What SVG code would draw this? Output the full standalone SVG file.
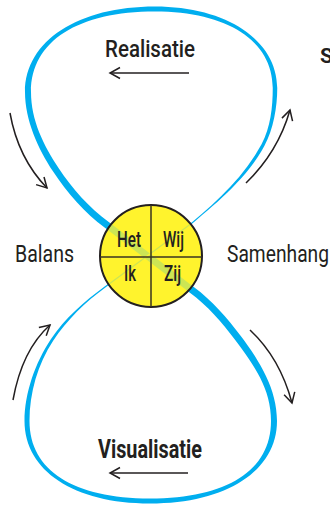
<svg xmlns="http://www.w3.org/2000/svg" width="330" height="508" viewBox="0 0 330 508">
<style>
.lbl{font-family:Roboto,"Liberation Sans",sans-serif;fill:#231f20;}
.arrow{fill:none;stroke:#231f20;stroke-width:1.5;marker-end:url(#ah);}
.cross{stroke:#3a3320;stroke-width:1.5;}
</style>
<defs>
<marker id="ah" markerWidth="14" markerHeight="14" refX="11" refY="6" orient="auto" markerUnits="userSpaceOnUse" viewBox="0 0 14 12">
<path d="M1,0.5 L11,6 L1,11.5" fill="none" stroke="#231f20" stroke-width="1.5"/>
</marker>
</defs>
<rect width="330" height="508" fill="#ffffff"/>
<g id="center-base">
<circle cx="151" cy="256" r="51" fill="#fff22d"/>
</g>
<g id="loop">
<path fill="#00aeef" fill-rule="evenodd" d="M192.32,223.39 C219.32,200.99 247.95,176.58 264.45,145.78 C273.45,129.08 277.25,107 277.25,88 C277.25,40.6 227,6.5 155,6.5 C78.8,6.5 25,40.5 25,92 C25,120 37.9,148.59 53.3,171.79 C67.05,192.54 84.68,213.09 104.93,227.84 L189.93,292.84 C207.73,305.84 222,322.5 235.2,340.1 C254.4,365.7 271,389 271,421 C271,470.6 226.9,498.5 150,498.5 C73.7,498.5 29.5,470.6 29.5,421 C29.5,393 37.76,363.97 53.16,340.77 C66.91,320.02 85.13,302.28 105.38,287.53 Z M191.68,222.62 C218.68,200.22 245.05,175.02 261.55,144.22 C270.55,127.52 272.75,107 272.75,88 C272.75,40.6 227,11.5 155,11.5 C78.8,11.5 31,40.5 31,92 C31,120 43.3,145.01 58.7,168.21 C72.45,188.96 88.82,207.41 109.07,222.16 L194.07,287.16 C211.87,300.16 227.6,318.3 240.8,335.9 C260,361.5 277,389 277,421 C277,470.6 226.9,503.5 150,503.5 C73.7,503.5 24.5,470.6 24.5,421 C24.5,393 35.44,362.43 50.84,339.23 C64.59,318.48 84.37,301.22 104.62,286.47 Z"/>
</g>
<g id="center">
<circle cx="151" cy="256" r="51" fill="#fff22d" fill-opacity="0.8" stroke="#231f20" stroke-width="2"/>
<line class="cross" x1="151" y1="205" x2="151" y2="307"/>
<line class="cross" x1="100" y1="257" x2="202" y2="257"/>
<text class="lbl" x="117" y="247" font-size="22" font-weight="500" textLength="24" lengthAdjust="spacingAndGlyphs">Het</text>
<text class="lbl" x="163" y="247" font-size="22" font-weight="500" textLength="21" lengthAdjust="spacingAndGlyphs">Wij</text>
<text class="lbl" x="124" y="281" font-size="22" font-weight="500" textLength="12" lengthAdjust="spacingAndGlyphs">Ik</text>
<text class="lbl" x="164" y="281" font-size="22" font-weight="500" textLength="17" lengthAdjust="spacingAndGlyphs">Zij</text>
</g>
<g id="labels">
<text class="lbl" x="105" y="57" font-size="24" font-weight="500" textLength="90" lengthAdjust="spacingAndGlyphs">Realisatie</text>
<text class="lbl" x="98" y="458" font-size="25" font-weight="700" textLength="104" lengthAdjust="spacingAndGlyphs">Visualisatie</text>
<text class="lbl" x="15" y="262" font-size="24" textLength="59" lengthAdjust="spacingAndGlyphs">Balans</text>
<text class="lbl" x="227" y="262" font-size="24" textLength="102" lengthAdjust="spacingAndGlyphs">Samenhang</text>
<text class="lbl" x="320" y="63" font-size="21" font-weight="700">S</text>
</g>
<g id="connectors">
<path class="arrow" d="M189,73 L110,73"/>
<path class="arrow" d="M188,473 L110,473"/>
<path class="arrow" d="M10,113 Q18,158 47,188"/>
<path class="arrow" d="M246,183 Q278,152 290,110"/>
<path class="arrow" d="M13,400 Q22,350 50,325"/>
<path class="arrow" d="M250,330 Q280,358 292,403"/>
</g>
</svg>
